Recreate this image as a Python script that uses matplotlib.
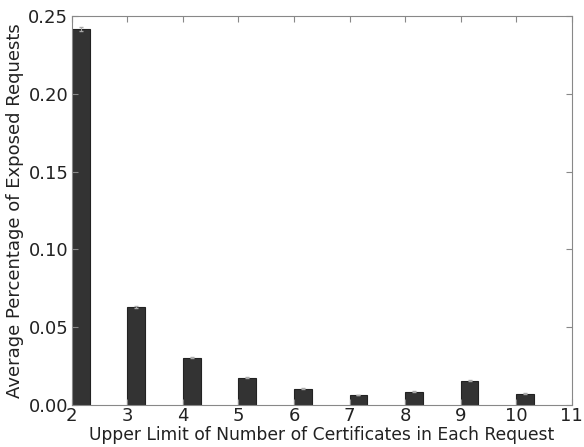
import matplotlib
matplotlib.use("Agg")
import matplotlib.pyplot as plt

limits = [2, 3, 4, 5, 6, 7, 8, 9, 10]
exposed = [0.2416, 0.0632, 0.0304, 0.0176, 0.0105, 0.0064, 0.0086, 0.0156, 0.0071]
errors = [0.0015, 0.0006, 0.0004, 0.0004, 0.0003, 0.0003, 0.0003, 0.0004, 0.0003]

fig = plt.figure(figsize=(5.84, 4.47), dpi=100)
ax = fig.add_axes([0.123, 0.094, 0.856, 0.870])

ax.bar(limits, exposed, width=0.32, align="edge", color="#333333",
       edgecolor="#222222", linewidth=0.8,
       yerr=errors, error_kw=dict(ecolor="#aaaaaa", elinewidth=0.7, capsize=1.5))

ax.set_xlim(2, 11)
ax.set_ylim(0, 0.25)
ax.set_xticks(range(2, 12))
ax.set_yticks([0.0, 0.05, 0.10, 0.15, 0.20, 0.25])
ax.set_yticklabels(["0.00", "0.05", "0.10", "0.15", "0.20", "0.25"])
ax.tick_params(direction="in", top=True, right=True, labelsize=13,
               length=4, color="#888888", labelcolor="#222222")
ax.tick_params(axis="x", pad=1.5)
ax.tick_params(axis="y", pad=2.5)
for s in ax.spines.values():
    s.set_color("#888888")

ax.set_xlabel("Upper Limit of Number of Certificates in Each Request",
              fontsize=12.3, labelpad=1, color="#222222")
ax.set_ylabel("Average Percentage of Exposed Requests",
              fontsize=13, labelpad=3, color="#222222")

fig.savefig("out.png", dpi=100)
